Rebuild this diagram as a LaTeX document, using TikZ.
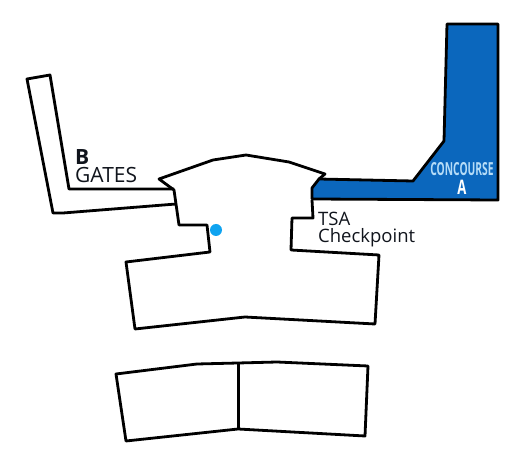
\documentclass[tikz,border=0pt]{standalone}
\usepackage{fontspec}
\setmainfont{Open Sans}
\definecolor{concourseblue}{HTML}{0B67BD}
\definecolor{dotblue}{HTML}{0FA3F0}
\definecolor{concoursetext}{HTML}{B5DCF7}
\definecolor{labelink}{HTML}{10141C}
\begin{document}
\begin{tikzpicture}[x=1pt,y=-1pt,
  wall/.style={draw=black,line width=2.8pt,line join=round},
  plan/.style={text=labelink,inner sep=0pt,align=left,anchor=north west},
  sign/.style={inner sep=0pt,xscale=.57}]
\useasboundingbox (0,0) rectangle (512,462);
% concourse A
\draw[wall,fill=concourseblue] (447,24) -- (498,24) -- (498,200) -- (312,199) -- (312,188)
  -- (319,179) -- (413,181) -- (444,141) -- cycle;
% main hall
\draw[wall] (319,179) -- (325,174) -- (289,162) -- (246,155) -- (213,160) -- (159,179) -- (174,190)
  -- (176,204) -- (179,225) -- (207,225) -- (210,252) -- (126,262) -- (135,329)
  -- (245,317) -- (375,324) -- (379,255) -- (291,250) -- (292,218) -- (313,218) -- (312,200);
% gates B
\draw[wall] (174,189) -- (69,189) -- (50,75) -- (27,79) -- (53,213) -- (63,213) -- (176,204);
% lower hall
\draw[wall] (116,374) -- (197,364) -- (238,363) -- (277,362) -- (368,366) -- (365,436)
  -- (238,429) -- (126,441) -- cycle;
\draw[wall] (238.5,363) -- (238.5,429);
\node[circle,fill=dotblue,minimum size=12pt,inner sep=0pt] (here) at (216,230) {};
\node[plan,font=\fontsize{21}{18}\selectfont] (gates) at (75,149.5) {\textbf{B}\\GATES};
\node[plan,font=\fontsize{18.5}{17}\selectfont] (tsa) at (318,212) {TSA\\Checkpoint};
\node[sign,text=concoursetext,font=\fontsize{18}{18}\selectfont\bfseries] (concourse) at (462,169) {CONCOURSE};
\node[sign,text=white,xscale=1.15,font=\fontsize{20}{20}\selectfont\bfseries] (terminal) at (462,187) {A};
\end{tikzpicture}
\end{document}
